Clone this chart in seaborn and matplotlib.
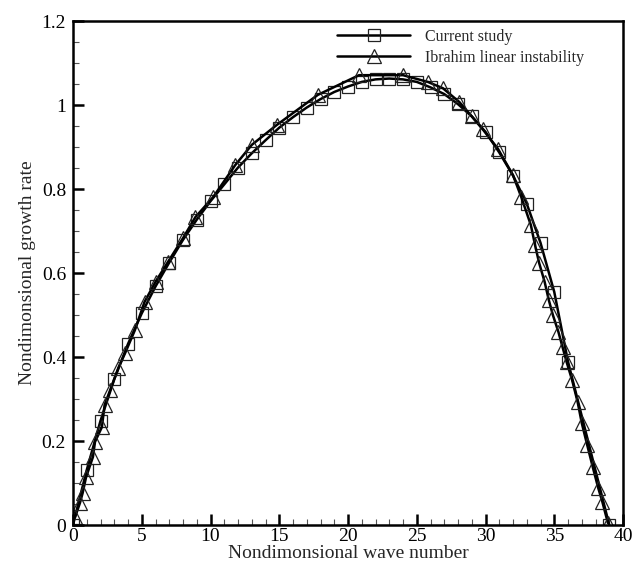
import matplotlib
matplotlib.use("Agg")
import matplotlib.pyplot as plt
import seaborn as sns
import pandas as pd
from matplotlib.ticker import MultipleLocator

# Current study (squares)
x_current = [0, 1, 2, 3, 4, 5, 6, 7, 8, 9, 10, 11, 12, 13, 14, 15, 16, 17, 18, 19,
             20, 21, 22, 23, 24, 25, 26, 27, 28, 29, 30, 31, 32, 33, 34, 35, 36, 39]
y_current = [0.0, 0.131, 0.248, 0.347, 0.431, 0.504, 0.568, 0.625, 0.679, 0.727,
             0.771, 0.811, 0.851, 0.885, 0.916, 0.946, 0.971, 0.994, 1.014, 1.031,
             1.044, 1.055, 1.061, 1.063, 1.061, 1.055, 1.042, 1.026, 1.002, 0.973,
             0.936, 0.887, 0.832, 0.765, 0.672, 0.555, 0.389, 0.0]

# Ibrahim linear instability (triangles)
x_ibrahim = [0.15, 0.5, 0.7, 0.95, 1.45, 1.6, 2.1, 2.3, 2.7, 3.3, 3.8, 4.5, 5.2,
             6.0, 6.9, 8.0, 8.9, 10.2, 11.8, 13.0, 14.8, 17.8, 20.8, 24.0, 25.8,
             26.9, 28.1, 29.0, 29.8, 30.9, 32.0, 32.6, 33.3, 33.6, 33.9, 34.3,
             34.6, 34.9, 35.3, 35.6, 35.9, 36.3, 36.7, 37.0, 37.4, 37.8, 38.2,
             38.5, 38.9]
y_ibrahim = [0.019, 0.052, 0.076, 0.114, 0.162, 0.198, 0.233, 0.286, 0.321, 0.374,
             0.41, 0.464, 0.531, 0.579, 0.626, 0.683, 0.733, 0.781, 0.857, 0.905,
             0.952, 1.024, 1.071, 1.071, 1.055, 1.04, 1.007, 0.973, 0.942, 0.896,
             0.833, 0.781, 0.714, 0.667, 0.624, 0.579, 0.536, 0.5, 0.46, 0.424,
             0.388, 0.345, 0.293, 0.243, 0.19, 0.138, 0.088, 0.055, 0.005]

labels = ["Current study", "Ibrahim linear instability"]
x_ticks = [0, 5, 10, 15, 20, 25, 30, 35, 40]
y_ticks = [0, 0.2, 0.4, 0.6, 0.8, 1.0, 1.2]
y_ticklabels = ["0", "0.2", "0.4", "0.6", "0.8", "1", "1.2"]

sns.set_theme(style="white")
plt.rcParams["font.family"] = ["Liberation Serif", "DejaVu Serif"]

fig = plt.figure(figsize=(6.4, 5.68), dpi=100)
ax = fig.add_axes([73 / 640, 1 - 525 / 568, 550 / 640, 504 / 568])

df1 = pd.DataFrame({"x": x_current, "y": y_current})
df2 = pd.DataFrame({"x": x_ibrahim, "y": y_ibrahim})

sns.lineplot(data=df1, x="x", y="y", ax=ax, color="black", linewidth=1.8,
             marker="s", markersize=8.5, markerfacecolor="none",
             markeredgecolor="#222222", markeredgewidth=0.9, label=labels[0],
             sort=False)
sns.lineplot(data=df2, x="x", y="y", ax=ax, color="black", linewidth=1.8,
             marker="^", markersize=9.5, markerfacecolor="none",
             markeredgecolor="#222222", markeredgewidth=0.9, label=labels[1],
             sort=False)

ax.set_xlim(0, 40)
ax.set_ylim(0, 1.2)
ax.set_xticks(x_ticks)
ax.set_xticklabels([str(t) for t in x_ticks])
ax.set_yticks(y_ticks)
ax.set_yticklabels(y_ticklabels)
ax.xaxis.set_minor_locator(MultipleLocator(1))
ax.yaxis.set_minor_locator(MultipleLocator(0.05))
ax.tick_params(which="major", direction="in", length=8, width=1.8,
               labelsize=14, bottom=True, left=True, top=False, right=False,
               colors="black", pad=5)
ax.tick_params(axis="x", which="major", pad=2)
ax.tick_params(which="minor", direction="in", length=4.5, width=0.8,
               bottom=True, left=True, top=False, right=False, colors="#555555")
for s in ax.spines.values():
    s.set_linewidth(1.8)
    s.set_color("black")

ax.set_xlabel("Nondimonsional wave number", fontsize=14, labelpad=0)
ax.set_ylabel("Nondimonsional growth rate", fontsize=14, labelpad=4)

leg = ax.legend(loc="upper left", bbox_to_anchor=(0.48, 0.984), frameon=False,
                fontsize=11.5, handlelength=4.6, handletextpad=0.9,
                labelspacing=0.3, borderaxespad=0, borderpad=0)

fig.savefig("out.png", dpi=100, facecolor="white")
